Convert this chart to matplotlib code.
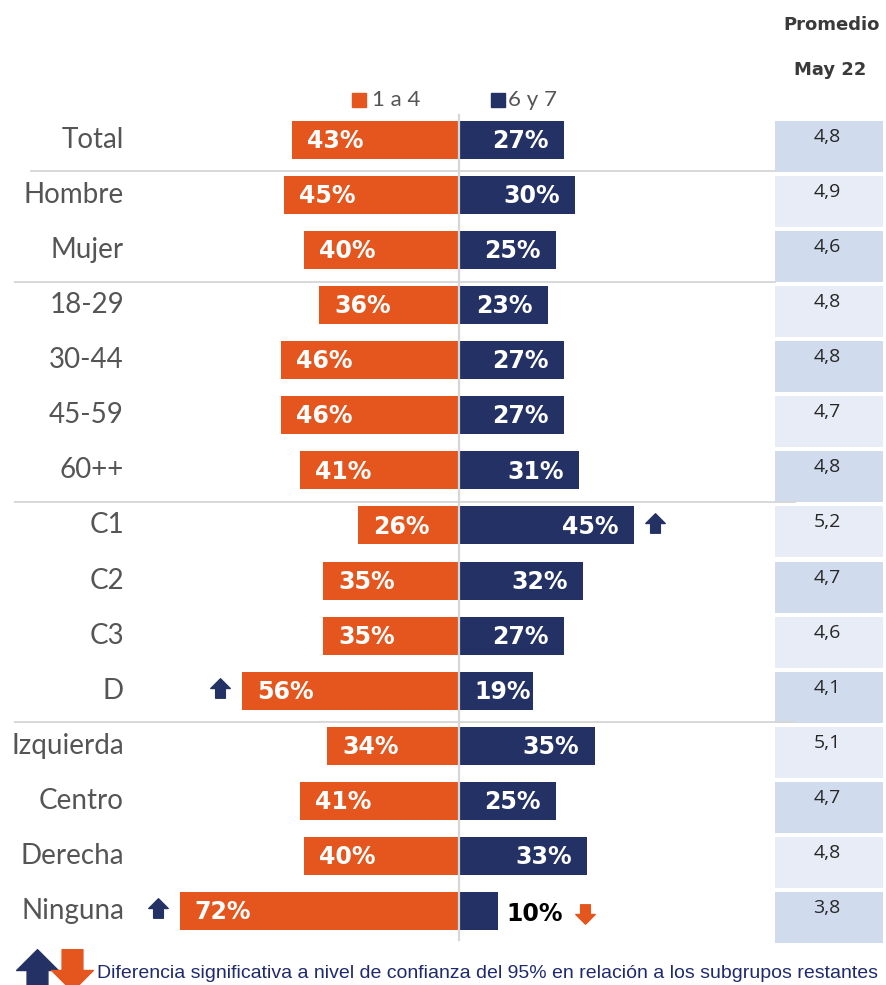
import numpy as np
import matplotlib.pyplot as plt
from matplotlib.path import Path
from matplotlib.patches import Rectangle

# Data
categories = ["Total", "Hombre", "Mujer", "18-29", "30-44", "45-59", "60++",
              "C1", "C2", "C3", "D", "Izquierda", "Centro", "Derecha", "Ninguna"]
low_scores = [43, 45, 40, 36, 46, 46, 41, 26, 35, 35, 56, 34, 41, 40, 72]    # 1 a 4
high_scores = [27, 30, 25, 23, 27, 27, 31, 45, 32, 27, 19, 35, 25, 33, 10]   # 6 y 7
averages = ["4,8", "4,9", "4,6", "4,8", "4,8", "4,7", "4,8",
            "5,2", "4,7", "4,6", "4,1", "5,1", "4,7", "4,8", "3,8"]
# significance arrows: (row, side, direction)
sig_marks = [(7, "high", "up"), (10, "low", "up"), (14, "low", "up"), (14, "high", "down")]
group_breaks = [0, 2, 6, 10]

ORANGE = "#E4561E"
NAVY = "#233164"
GRAY_TXT = "#555555"
LINE = "#D6D6D6"
CELL_DARK = "#D0DCEE"
CELL_LIGHT = "#E8ECF6"

# pixel geometry of the reference (886 x 985)
W, H = 886, 985
X0, PX_PER_PCT = 459, 3.88
Y0, ROW = 140, 55.07


def px_x(p):
    return (p - X0) / PX_PER_PCT


def px_y(p):
    return (p - Y0) / ROW


# block arrow path used as marker
ARROW_UP = Path([(-0.5, -1.0), (0.5, -1.0), (0.5, 0.0), (1.0, 0.0), (0.0, 1.0),
                 (-1.0, 0.0), (-0.5, 0.0), (-0.5, -1.0)],
                [Path.MOVETO] + [Path.LINETO] * 6 + [Path.CLOSEPOLY])
ARROW_DOWN = Path(ARROW_UP.vertices * np.array([1, -1]), ARROW_UP.codes)


def main():
    fig = plt.figure(figsize=(W / 100, H / 100), dpi=100)
    ax = fig.add_axes([0, 0, 1, 1])
    ax.set_xlim(px_x(0), px_x(W))
    ax.set_ylim(px_y(H), px_y(0))
    ax.axis("off")

    rows = np.arange(len(categories))
    low = np.array(low_scores)
    high = np.array(high_scores)

    # Bars
    ax.barh(rows, -low, height=0.69, color=ORANGE, zorder=2)
    ax.barh(rows, high, height=0.69, color=NAVY, zorder=2)

    # Center line
    ax.plot([0, 0], [px_y(115), px_y(940)], color=LINE, lw=1.6, zorder=3)

    # Group separators
    for b in group_breaks:
        y = b + 0.57
        x_start = px_x(31) if b == 0 else px_x(15)
        x_end = px_x(775) if b < 6 else px_x(795)
        ax.plot([x_start, x_end], [y, y], color=LINE, lw=1.3, zorder=1)

    font = ["Lato", "DejaVu Sans"]
    bold_font = ["DejaVu Sans"]

    # Category labels
    for i, cat in enumerate(categories):
        ax.text(px_x(124), i, cat, ha="right", va="center", fontsize=20,
                color=GRAY_TXT, family=font)

    # Value labels
    for i in rows:
        ax.text(-low[i] + 15 / PX_PER_PCT, i + 0.02, f"{low[i]}%",
                ha="left", va="center", fontsize=17, fontweight="bold",
                color="white", family=bold_font, zorder=4)
        if high[i] >= 15:
            pad = 4.0 if high[i] >= 22 else 0.6
            ax.text(high[i] - pad, i + 0.02, f"{high[i]}%", ha="right", va="center",
                    fontsize=17, fontweight="bold", color="white", family=bold_font,
                    zorder=4)
        else:
            ax.text(high[i] + 2.3, i + 0.05, f"{high[i]}%", ha="left", va="center",
                    fontsize=17, fontweight="bold", color="black", family=bold_font,
                    zorder=4)

    # Significance arrows
    for row, side, direction in sig_marks:
        if side == "high":
            offset = 5.6 if high[row] >= 15 else 32.5 - high[row]
            x = high[row] + offset
        else:
            x = -low[row] - 5.7
        marker = ARROW_UP if direction == "up" else ARROW_DOWN
        color = NAVY if direction == "up" else ORANGE
        dy = -0.05 if direction == "up" else 0.05
        ax.plot([x], [row + dy], marker=marker, markersize=14, color=color,
                linestyle="none", zorder=4)

    # Legend
    ax.plot([px_x(359)], [px_y(100)], marker="s", markersize=10, color=ORANGE)
    ax.text(px_x(372), px_y(100), "1 a 4", ha="left", va="center", fontsize=16,
            color=GRAY_TXT, family=font)
    ax.plot([px_x(498)], [px_y(100)], marker="s", markersize=10, color=NAVY)
    ax.text(px_x(508), px_y(100), "6 y 7", ha="left", va="center", fontsize=16,
            color=GRAY_TXT, family=font)

    # Average column
    ax.text(px_x(832), px_y(25), "Promedio", ha="center", va="center", fontsize=13,
            fontweight="bold", color="#3A3A3A", family=bold_font)
    ax.text(px_x(830), px_y(70), "May 22", ha="center", va="center", fontsize=13,
            fontweight="bold", color="#3A3A3A", family=bold_font)
    cell_x0, cell_x1 = px_x(775), px_x(883)
    for i, val in enumerate(averages):
        top = i - 19 / ROW
        height = 51 / ROW
        ax.add_patch(Rectangle((cell_x0, top), cell_x1 - cell_x0, height,
                               facecolor=CELL_DARK if i % 2 == 0 else CELL_LIGHT,
                               edgecolor="none", zorder=0))
        ax.text((cell_x0 + cell_x1) / 2 - 0.5, i - 3 / ROW, val, ha="center",
                va="center", fontsize=14, color="#262626",
                family=["Open Sans", "DejaVu Sans"])

    # Footnote
    ax.plot([px_x(37)], [px_y(970)], marker=ARROW_UP, markersize=30, color=NAVY)
    ax.plot([px_x(72)], [px_y(970)], marker=ARROW_DOWN, markersize=30, color=ORANGE)
    ax.text(px_x(97), px_y(974),
            "Diferencia significativa a nivel de confianza del 95% en relación a los subgrupos restantes",
            ha="left", va="center", fontsize=14, color="#1F2A6E",
            family=["Liberation Sans", "DejaVu Sans"])

    fig.savefig("out.png", dpi=100)


if __name__ == "__main__":
    main()
